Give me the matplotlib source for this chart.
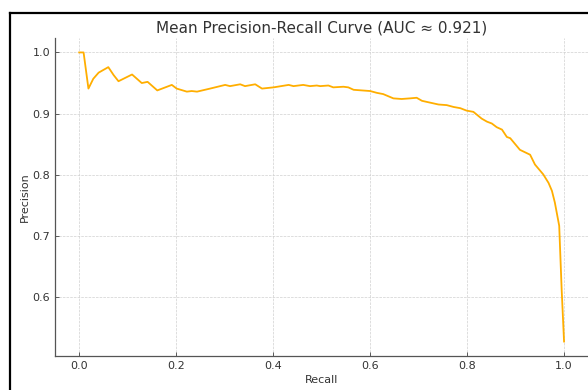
import numpy as np
import matplotlib.pyplot as plt
from matplotlib.lines import Line2D

# mean PR curve
recall = [0.0, 0.009, 0.019, 0.029, 0.040, 0.060, 0.071, 0.081, 0.109, 0.129,
          0.141, 0.161, 0.191, 0.201, 0.222, 0.232, 0.243, 0.270, 0.301, 0.311,
          0.332, 0.342, 0.363, 0.377, 0.401, 0.432, 0.442, 0.462, 0.476, 0.490,
          0.497, 0.514, 0.524, 0.545, 0.555, 0.566, 0.583, 0.600, 0.614, 0.627,
          0.648, 0.665, 0.682, 0.696, 0.707, 0.724, 0.741, 0.758, 0.772, 0.786,
          0.799, 0.813, 0.830, 0.841, 0.851, 0.861, 0.872, 0.882, 0.889, 0.909,
          0.930, 0.940, 0.957, 0.968, 0.975, 0.981, 0.990, 0.995, 1.0]
precision = [1.0, 1.0, 0.941, 0.957, 0.967, 0.976, 0.963, 0.953, 0.964, 0.950,
             0.952, 0.938, 0.947, 0.941, 0.936, 0.937, 0.936, 0.941, 0.947, 0.945,
             0.948, 0.945, 0.948, 0.941, 0.943, 0.947, 0.945, 0.947, 0.945, 0.946,
             0.945, 0.946, 0.943, 0.944, 0.943, 0.939, 0.938, 0.937, 0.934, 0.932,
             0.925, 0.924, 0.925, 0.926, 0.921, 0.918, 0.915, 0.914, 0.911, 0.909,
             0.905, 0.903, 0.892, 0.887, 0.884, 0.878, 0.874, 0.862, 0.860, 0.841,
             0.833, 0.817, 0.801, 0.787, 0.774, 0.755, 0.717, 0.614, 0.528]
auc = 0.921

fig = plt.figure(figsize=(5.88, 3.9), dpi=100)
ax = fig.add_axes([0.0935, 0.0872, 0.907, 0.8154])

ax.plot(recall, precision, color='#FFAE00', linewidth=1.3)

ax.set_title(f'Mean Precision-Recall Curve (AUC \u2248 {auc})', fontsize=11,
             color='#333333', pad=4)
ax.set_xlabel('Recall', fontsize=8, color='#333333', labelpad=3)
ax.set_ylabel('Precision', fontsize=8, color='#333333', labelpad=2)
ax.set_xticks([0.0, 0.2, 0.4, 0.6, 0.8, 1.0])
ax.set_yticks([0.6, 0.7, 0.8, 0.9, 1.0])
ax.tick_params(direction='in', length=3, width=0.6, labelsize=8,
               colors='#444444', labelcolor='#333333')
ax.grid(True, linestyle='--', linewidth=0.5, color='#d0d0d0')
ax.spines['top'].set_visible(False)
ax.spines['right'].set_visible(False)
for s in ['left', 'bottom']:
    ax.spines[s].set_color('#555555')
    ax.spines[s].set_linewidth(0.9)

# black frame of the original figure, cropped on the right and bottom
fig.add_artist(Line2D([10 / 588, 1.0], [1 - 13 / 390, 1 - 13 / 390],
                      transform=fig.transFigure, color='black', linewidth=1.6))
fig.add_artist(Line2D([10 / 588, 10 / 588], [0.0, 1 - 13 / 390],
                      transform=fig.transFigure, color='black', linewidth=1.6))

fig.savefig('out.png', dpi=100)
